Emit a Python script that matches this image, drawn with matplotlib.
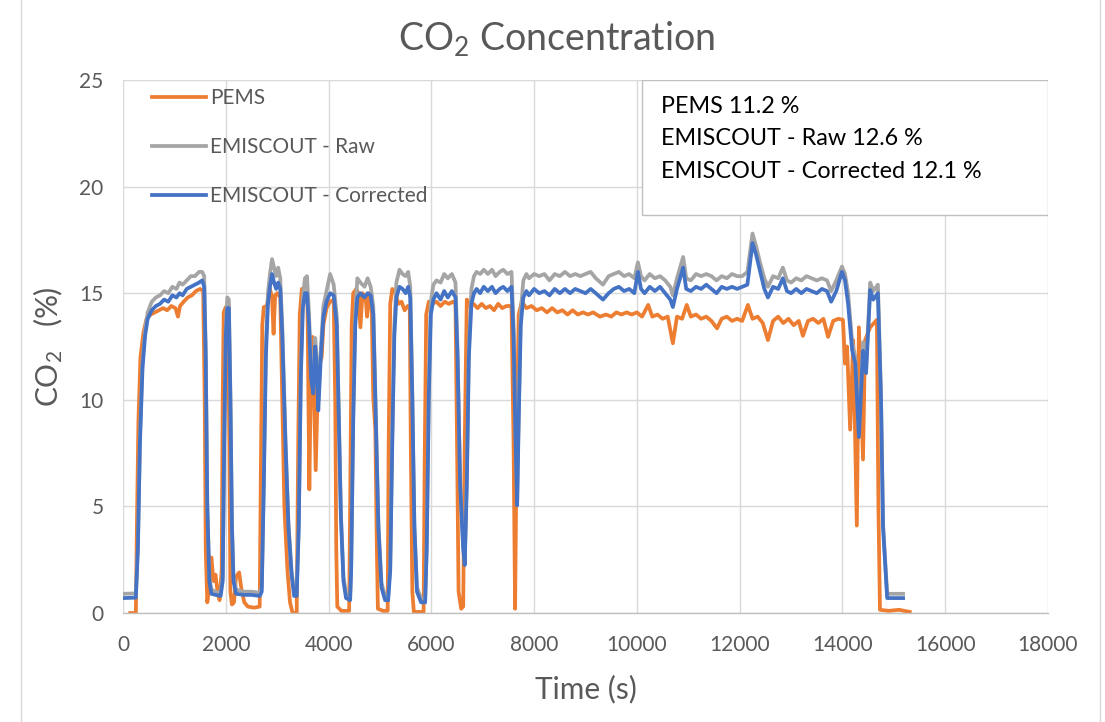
import matplotlib
matplotlib.use("Agg")
import matplotlib.pyplot as plt
from matplotlib.lines import Line2D
from matplotlib.patches import Rectangle

plt.rcParams['font.family'] = ['Lato', 'DejaVu Sans']
plt.rcParams['mathtext.fontset'] = 'custom'
plt.rcParams['mathtext.rm'] = 'Lato'
plt.rcParams['mathtext.default'] = 'regular'

# PEMS trace (time s, CO2 %)
pems_time = [
    140, 250, 270, 300, 340, 400, 460, 540, 620, 700,
    780, 860, 940, 1020, 1070, 1110, 1180, 1260, 1340, 1420,
    1500, 1560, 1590, 1610, 1640, 1680, 1720, 1760, 1800, 1840,
    1880, 1920, 1940, 1960, 2000, 2040, 2070, 2090, 2120, 2160,
    2200, 2260, 2300, 2360, 2430, 2550, 2660, 2680, 2710, 2740,
    2800, 2860, 2900, 2930, 2960, 3000, 3060, 3100, 3140, 3200,
    3250, 3300, 3380, 3410, 3440, 3480, 3540, 3590, 3626, 3660,
    3690, 3750, 3800, 3866, 3900, 3960, 4030, 4100, 4130, 4150,
    4170, 4250, 4400, 4420, 4450, 4480, 4540, 4580, 4620, 4660,
    4720, 4750, 4790, 4840, 4870, 4910, 4940, 4960, 5060, 5150,
    5170, 5200, 5240, 5300, 5360, 5420, 5480, 5540, 5580, 5600,
    5630, 5660, 5850, 5870, 5900, 5950, 6020, 6100, 6180, 6260,
    6340, 6420, 6470, 6500, 6530, 6580, 6620, 6650, 6690, 6750,
    6820, 6900, 6980, 7060, 7140, 7220, 7300, 7380, 7460, 7560,
    7600, 7630, 7660, 7700, 7760, 7850, 7950, 8050, 8150, 8250,
    8350, 8450, 8550, 8650, 8750, 8850, 8950, 9050, 9150, 9280,
    9400, 9500, 9600, 9700, 9800, 9900, 10000, 10100, 10220, 10300,
    10400, 10500, 10600, 10700, 10780, 10880, 10970, 11050, 11150, 11250,
    11350, 11450, 11560, 11650, 11750, 11850, 11950, 12050, 12160, 12250,
    12350, 12450, 12550, 12650, 12750, 12850, 12950, 13050, 13150, 13230,
    13330, 13430, 13530, 13630, 13720, 13820, 13920, 14010, 14050, 14090,
    14150, 14210, 14280, 14320, 14400, 14440, 14540, 14670, 14700, 14730,
    14900, 15100, 15310,
]
pems_co2 = [
    0.0, 0.0, 4.0, 9.0, 12.0, 13.2, 13.8, 14.0, 14.1, 14.2,
    14.3, 14.2, 14.4, 14.3, 13.9, 14.4, 14.6, 14.8, 14.9, 15.1,
    15.2, 15.1, 10.0, 3.0, 0.5, 1.2, 2.6, 1.5, 1.8, 1.0,
    0.6, 2.0, 10.0, 14.1, 14.35, 14.3, 8.0, 1.0, 0.4, 0.5,
    1.7, 1.9, 1.2, 0.5, 0.3, 0.25, 0.3, 6.0, 13.5, 14.35,
    14.4, 15.2, 14.8, 13.1, 14.9, 15.0, 14.8, 10.0, 5.0, 2.0,
    0.5, 0.0, 0.0, 8.0, 14.0, 15.2, 15.0, 14.5, 5.8, 12.0,
    12.95, 6.7, 11.5, 12.0, 13.5, 14.3, 14.6, 14.7, 10.0, 3.0,
    0.3, 0.1, 0.1, 5.0, 13.5, 15.0, 15.2, 15.0, 13.4, 15.0,
    14.8, 13.9, 15.0, 14.2, 10.1, 8.6, 3.0, 0.2, 0.1, 0.1,
    8.0, 14.5, 15.2, 15.0, 14.5, 14.6, 14.2, 14.4, 14.3, 8.0,
    1.0, 0.05, 0.05, 7.0, 14.0, 14.6, 14.5, 14.6, 14.4, 14.6,
    14.5, 14.6, 14.5, 8.0, 1.0, 0.2, 0.3, 8.0, 14.7, 14.4,
    14.5, 14.3, 14.5, 14.3, 14.4, 14.2, 14.5, 14.3, 14.4, 14.4,
    8.0, 0.2, 8.0, 14.0, 14.6, 14.3, 14.4, 14.2, 14.3, 14.1,
    14.3, 14.1, 14.2, 14.0, 14.2, 14.0, 14.1, 14.0, 14.1, 13.9,
    14.0, 13.9, 14.1, 14.0, 14.1, 14.0, 14.1, 13.9, 14.45, 13.9,
    14.0, 13.8, 13.9, 12.65, 13.9, 13.8, 14.45, 13.9, 14.0, 13.8,
    13.9, 13.7, 13.35, 13.8, 13.9, 13.7, 13.8, 13.7, 14.45, 13.8,
    13.9, 13.6, 12.8, 13.7, 13.9, 13.6, 13.8, 13.5, 13.7, 13.0,
    13.7, 13.8, 13.6, 13.8, 12.95, 13.7, 13.8, 13.75, 11.7, 12.5,
    8.6, 12.8, 4.1, 13.4, 7.2, 12.8, 13.4, 13.75, 5.0, 0.15,
    0.1, 0.15, 0.05,
]

# EMISCOUT traces (shared time base)
emis_time = [
    0, 250, 290, 330, 380, 430, 480, 560, 640, 720,
    800, 880, 960, 1040, 1100, 1160, 1240, 1320, 1400, 1480,
    1540, 1580, 1610, 1640, 1680, 1720, 1800, 1900, 1940, 1970,
    2000, 2030, 2060, 2090, 2120, 2150, 2200, 2350, 2500, 2660,
    2700, 2740, 2780, 2820, 2860, 2900, 2940, 2980, 3020, 3060,
    3100, 3160, 3220, 3280, 3330, 3380, 3420, 3460, 3500, 3540,
    3580, 3620, 3660, 3700, 3740, 3770, 3800, 3850, 3900, 3960,
    4030, 4100, 4160, 4200, 4240, 4290, 4340, 4420, 4440, 4480,
    4520, 4560, 4620, 4700, 4760, 4820, 4870, 4920, 4970, 5030,
    5100, 5160, 5200, 5240, 5280, 5320, 5380, 5440, 5500, 5550,
    5590, 5630, 5670, 5720, 5800, 5880, 5910, 5950, 5990, 6040,
    6100, 6180, 6250, 6320, 6400, 6470, 6510, 6560, 6620, 6650,
    6690, 6730, 6780, 6830, 6880, 6950, 7020, 7100, 7180, 7250,
    7330, 7400, 7480, 7560, 7600, 7640, 7670, 7700, 7740, 7790,
    7850, 7900, 8000, 8100, 8200, 8300, 8400, 8500, 8600, 8700,
    8800, 8900, 9000, 9100, 9200, 9340, 9450, 9550, 9650, 9750,
    9850, 9950, 10020, 10080, 10150, 10250, 10350, 10450, 10550, 10650,
    10700, 10780, 10900, 10960, 11050, 11150, 11250, 11350, 11450, 11550,
    11650, 11750, 11850, 11950, 12050, 12150, 12250, 12320, 12400, 12480,
    12550, 12650, 12750, 12840, 12920, 13000, 13100, 13200, 13300, 13400,
    13500, 13600, 13700, 13780, 13880, 13990, 14050, 14110, 14190, 14250,
    14320, 14400, 14460, 14540, 14600, 14690, 14750, 14790, 14870, 15180,
]
emis_raw = [
    0.90, 0.92, 3.2, 8.3, 11.8, 13.3, 14.1, 14.6, 14.8, 14.9,
    15.1, 15.0, 15.3, 15.2, 15.5, 15.4, 15.6, 15.8, 15.8, 16.0,
    16.0, 15.8, 12.3, 5.2, 1.7, 1.1, 1.0, 0.95, 1.7, 8.3,
    13.4, 14.8, 14.7, 10.3, 4.2, 1.7, 1.1, 1.0, 1.0, 0.95,
    1.2, 6.3, 12.5, 15.0, 15.9, 16.6, 16.2, 15.8, 16.2, 15.7,
    13.4, 8.3, 4.2, 2.0, 1.0, 1.0, 4.2, 11.4, 14.8, 15.7,
    15.8, 14.0, 11.5, 10.8, 12.9, 11.9, 10.0, 12.4, 14.4, 15.1,
    15.9, 15.4, 13.9, 9.3, 4.7, 1.7, 0.9, 0.8, 2.2, 9.4,
    14.0, 15.7, 15.5, 15.3, 15.7, 15.3, 14.4, 9.3, 4.2, 1.4,
    0.8, 0.8, 2.2, 8.4, 13.5, 15.5, 16.1, 15.9, 15.8, 16.0,
    15.3, 10.3, 4.2, 1.2, 0.7, 0.7, 3.2, 10.4, 14.6, 15.4,
    15.6, 15.5, 15.9, 15.7, 15.9, 15.5, 12.4, 6.3, 3.2, 2.45,
    6.3, 12.5, 15.2, 15.8, 16.0, 15.9, 16.1, 15.9, 16.1, 15.8,
    16.0, 16.1, 15.9, 16.0, 13.5, 8.3, 5.3, 9.4, 14.1, 15.6,
    15.9, 15.7, 15.9, 15.8, 15.9, 15.6, 15.9, 15.8, 16.0, 15.8,
    15.9, 15.8, 15.9, 16.0, 15.7, 15.4, 15.8, 15.9, 16.0, 15.8,
    15.9, 15.7, 16.45, 15.8, 15.6, 15.9, 15.7, 15.8, 15.6, 15.3,
    14.9, 15.7, 16.7, 15.7, 15.6, 15.9, 15.8, 15.9, 15.8, 15.6,
    15.8, 15.7, 15.9, 15.8, 15.8, 16.0, 17.8, 17.2, 16.4, 15.7,
    15.3, 15.8, 15.7, 16.2, 15.6, 15.5, 15.7, 15.6, 15.8, 15.7,
    15.6, 15.7, 15.6, 15.1, 15.6, 16.25, 15.9, 15.0, 12.7, 12.0,
    8.5, 12.7, 11.6, 15.5, 15.1, 15.4, 10.3, 4.2, 0.9, 0.9,
]
emis_corr = [
    0.70, 0.72, 3.0, 8.0, 11.5, 13.0, 13.8, 14.2, 14.4, 14.5,
    14.7, 14.6, 14.9, 14.8, 15.0, 14.9, 15.2, 15.3, 15.4, 15.5,
    15.6, 15.3, 12.0, 5.0, 1.5, 0.9, 0.85, 0.8, 1.5, 8.0,
    13.0, 14.3, 14.3, 10.0, 4.0, 1.5, 0.9, 0.85, 0.85, 0.8,
    1.0, 6.0, 12.0, 14.5, 15.3, 15.9, 15.5, 15.2, 15.5, 15.2,
    13.0, 8.0, 4.0, 1.8, 0.8, 0.8, 4.0, 11.0, 14.3, 15.0,
    15.0, 13.5, 11.0, 10.3, 12.5, 11.5, 9.5, 12.0, 13.9, 14.6,
    15.0, 14.9, 13.5, 9.0, 4.5, 1.5, 0.7, 0.6, 2.0, 9.0,
    13.5, 14.8, 15.0, 14.8, 15.0, 14.9, 14.0, 9.0, 4.0, 1.2,
    0.6, 0.6, 2.0, 8.0, 13.0, 14.8, 15.3, 15.2, 15.0, 15.3,
    14.8, 10.0, 4.0, 1.0, 0.5, 0.5, 3.0, 10.0, 14.0, 14.7,
    15.0, 14.7, 15.1, 14.8, 15.1, 14.8, 12.0, 6.0, 3.0, 2.25,
    6.0, 12.0, 14.5, 15.0, 15.2, 15.0, 15.3, 15.1, 15.3, 15.0,
    15.2, 15.3, 15.1, 15.3, 13.0, 8.0, 5.05, 9.0, 13.5, 14.8,
    15.1, 14.9, 15.2, 15.0, 15.1, 14.9, 15.2, 15.0, 15.2, 15.0,
    15.2, 15.1, 15.0, 15.2, 15.0, 14.7, 15.0, 15.2, 15.3, 15.1,
    15.2, 15.0, 16.0, 15.2, 15.0, 15.3, 15.1, 15.3, 15.0, 14.7,
    14.35, 15.2, 16.2, 15.2, 15.1, 15.3, 15.2, 15.4, 15.2, 15.0,
    15.3, 15.2, 15.3, 15.2, 15.3, 15.4, 17.35, 16.8, 16.0, 15.2,
    14.8, 15.3, 15.2, 15.7, 15.1, 15.0, 15.2, 15.0, 15.2, 15.1,
    15.0, 15.2, 15.1, 14.6, 15.1, 16.0, 15.6, 14.5, 12.3, 11.7,
    8.25, 12.3, 11.25, 15.15, 14.7, 15.0, 10.0, 4.0, 0.7, 0.7,
]

x_ticks = list(range(0, 18001, 2000))
y_ticks = list(range(0, 26, 5))
summary_lines = ["PEMS 11.2 %", "EMISCOUT - Raw 12.6 %", "EMISCOUT - Corrected 12.1 %"]

fig = plt.figure(figsize=(11.05, 7.22), dpi=100)
ax = fig.add_axes([123 / 1105, 109 / 722, 925 / 1105, 533 / 722])

ax.plot(pems_time, pems_co2, color='#ED7D31', lw=2.7, label='PEMS', solid_joinstyle='round')
ax.plot(emis_time, emis_raw, color='#A5A5A5', lw=2.7, label='EMISCOUT - Raw', solid_joinstyle='round')
ax.plot(emis_time, emis_corr, color='#4472C4', lw=2.7, label='EMISCOUT - Corrected', solid_joinstyle='round')

ax.set_xlim(0, 18000)
ax.set_ylim(0, 25)
ax.set_xticks(x_ticks)
ax.set_yticks(y_ticks)
ax.grid(True, color='#D9D9D9', lw=1.0)
ax.set_axisbelow(True)
for side in ['top', 'right', 'left']:
    ax.spines[side].set_visible(False)
ax.spines['bottom'].set_color('#BFBFBF')
ax.spines['bottom'].set_linewidth(1.0)
ax.tick_params(length=0, labelsize=15, labelcolor='#595959')
ax.tick_params(axis='x', pad=16)
ax.tick_params(axis='y', pad=14)

ax.set_xlabel('Time (s)', fontsize=21.5, color='#595959', labelpad=14)
ax.set_ylabel('CO$_2$   (%)', fontsize=21.5, color='#595959', labelpad=10)
fig.text(557 / 1105, 1 - 38 / 722, 'CO$_2$ Concentration', fontsize=27,
         color='#595959', ha='center', va='center')

ax.legend(loc='upper left', bbox_to_anchor=(152 / 1105, 1 - 88 / 722),
          bbox_transform=fig.transFigure, frameon=False, fontsize=15,
          handlelength=2.6, handletextpad=0.2, labelspacing=1.4,
          borderpad=0, borderaxespad=0, labelcolor='#595959')

# summary box, top right
box = Rectangle((0.561, 0.747), 0.439, 0.253, transform=ax.transAxes,
                facecolor='white', edgecolor='#BFBFBF', lw=1.0, zorder=5)
ax.add_patch(box)
for i, line in enumerate(summary_lines):
    ax.text(0.5816, 0.951 - i * 0.061, line, transform=ax.transAxes,
            fontsize=16.8, color='black', va='center', ha='left', zorder=6)

# chart-area border
fig.add_artist(Line2D([21 / 1105, 21 / 1105], [0, 1], color='#D9D9D9', lw=1.0))
fig.add_artist(Line2D([1100 / 1105, 1100 / 1105], [0, 1], color='#D9D9D9', lw=1.0))

fig.savefig('out.png', dpi=100)
